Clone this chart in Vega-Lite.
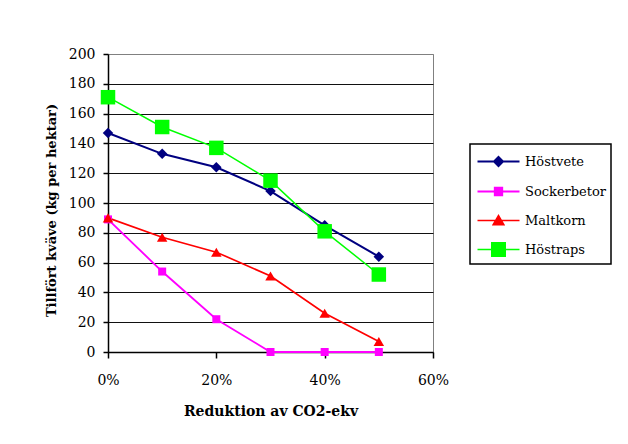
{
  "$schema": "https://vega.github.io/schema/vega-lite/v6.json",
  "width": 325,
  "height": 298,
  "autosize": {"type": "none"},
  "padding": {"left": 108, "top": 54, "right": 195, "bottom": 92},
  "background": "white",
  "config": {
    "view": {"stroke": "#808080", "strokeWidth": 1},
    "font": "DejaVu Serif",
    "legend": {"labelFont": "DejaVu Serif", "labelFontSize": 13, "labelColor": "black"}
  },
  "data": {"values": [
    {"crop": "Höstvete", "red": 0, "n": 147},
    {"crop": "Höstvete", "red": 0.1, "n": 133},
    {"crop": "Höstvete", "red": 0.2, "n": 124},
    {"crop": "Höstvete", "red": 0.3, "n": 108},
    {"crop": "Höstvete", "red": 0.4, "n": 85},
    {"crop": "Höstvete", "red": 0.5, "n": 64},
    {"crop": "Sockerbetor", "red": 0, "n": 89},
    {"crop": "Sockerbetor", "red": 0.1, "n": 54},
    {"crop": "Sockerbetor", "red": 0.2, "n": 22},
    {"crop": "Sockerbetor", "red": 0.3, "n": 0},
    {"crop": "Sockerbetor", "red": 0.4, "n": 0},
    {"crop": "Sockerbetor", "red": 0.5, "n": 0},
    {"crop": "Maltkorn", "red": 0, "n": 90},
    {"crop": "Maltkorn", "red": 0.1, "n": 77},
    {"crop": "Maltkorn", "red": 0.2, "n": 67},
    {"crop": "Maltkorn", "red": 0.3, "n": 51},
    {"crop": "Maltkorn", "red": 0.4, "n": 26},
    {"crop": "Maltkorn", "red": 0.5, "n": 7},
    {"crop": "Höstraps", "red": 0, "n": 171},
    {"crop": "Höstraps", "red": 0.1, "n": 151},
    {"crop": "Höstraps", "red": 0.2, "n": 137},
    {"crop": "Höstraps", "red": 0.3, "n": 115},
    {"crop": "Höstraps", "red": 0.4, "n": 81},
    {"crop": "Höstraps", "red": 0.5, "n": 52}
  ]},
  "encoding": {
    "x": {
      "field": "red", "type": "quantitative",
      "scale": {"domain": [0, 0.6], "nice": false, "zero": false},
      "axis": {
        "values": [0, 0.2, 0.4, 0.6], "format": ".0%", "grid": false, "labelFlush": false,
        "domainColor": "black", "domainWidth": 1.5, "tickColor": "black", "tickWidth": 1.5, "tickSize": 6,
        "labelFont": "DejaVu Serif", "labelFontSize": 14, "labelColor": "black", "labelPadding": 15,
        "title": "Reduktion av CO2-ekv", "titleFont": "DejaVu Serif", "titleFontSize": 14,
        "titleFontWeight": "bold", "titleColor": "black", "titleY": 63, "titleBaseline": "alphabetic"
      }
    },
    "y": {
      "field": "n", "type": "quantitative",
      "scale": {"domain": [0, 200], "nice": false},
      "axis": {
        "values": [0, 20, 40, 60, 80, 100, 120, 140, 160, 180, 200],
        "grid": true,
        "gridColor": {"condition": {"test": "datum.value == 200", "value": "#808080"}, "value": "#111111"},
        "gridWidth": 1.2,
        "domainColor": "black", "domainWidth": 1.5, "tickColor": "black", "tickWidth": 1.5, "tickSize": 5,
        "labelFont": "DejaVu Serif", "labelFontSize": 14, "labelColor": "black", "labelPadding": 8,
        "title": "Tillfört kväve (kg per hektar)", "titleFont": "DejaVu Serif", "titleFontSize": 13,
        "titleFontWeight": "bold", "titleColor": "black", "titleX": -53, "titleY": 156,
        "titleBaseline": "alphabetic", "titleAlign": "center", "titleAngle": -90
      }
    },
    "color": {
      "field": "crop", "type": "nominal",
      "scale": {"domain": ["Höstvete", "Sockerbetor", "Maltkorn", "Höstraps"], "range": ["#000080", "#FF00FF", "#FF0000", "#00FF00"]},
      "legend": {
        "title": null, "orient": "none", "legendX": 362, "legendY": 90,
        "strokeColor": "black", "padding": 4, "symbolSize": 625, "rowPadding": 8,
        "labelFont": "DejaVu Serif", "labelFontSize": 13, "labelColor": "black", "labelOffset": 24,
        "encode": {
          "legend": {"update": {"strokeWidth": {"value": 1.5}}},
          "labels": {"update": {
            "font": {"value": "DejaVu Serif"},
            "fontSize": {"value": 13},
            "fill": {"value": "black"}
          }},
          "symbols": {"update": {
            "shape": {"signal": "datum.value === 'Höstvete' ? 'M-0.8,0L2.56,0M0.88,-0.36L1.24,0L0.88,0.36L0.52,0Z' : datum.value === 'Sockerbetor' ? 'M-0.8,0L2.56,0M0.58,-0.3L1.18,-0.3L1.18,0.3L0.58,0.3Z' : datum.value === 'Maltkorn' ? 'M-0.8,0L2.56,0M0.88,-0.38L1.3,0.33L0.46,0.33Z' : 'M-0.8,0L2.56,0M0.34,-0.54L1.42,-0.54L1.42,0.54L0.34,0.54Z'"},
            "size": {"value": 625},
            "fill": {"signal": "scale('color', datum.value)"},
            "stroke": {"signal": "scale('color', datum.value)"},
            "strokeWidth": {"value": 1.5},
            "opacity": {"value": 1},
            "fillOpacity": {"value": 1},
            "strokeOpacity": {"value": 1}
          }}
        }
      }
    }
  },
  "layer": [
    {
      "mark": {"type": "line"},
      "encoding": {
        "strokeWidth": {"field": "crop", "type": "ordinal", "scale": {"domain": ["Höstvete", "Sockerbetor", "Maltkorn", "Höstraps"], "range": [2, 1.5, 1.5, 1.5]}, "legend": null}
      }
    },
    {
      "transform": [{"filter": "datum.crop === 'Höstvete'"}],
      "mark": {"type": "point", "filled": true, "opacity": 1, "shape": "diamond", "size": 110}
    },
    {
      "transform": [{"filter": "datum.crop === 'Sockerbetor'"}],
      "mark": {"type": "point", "filled": true, "opacity": 1, "shape": "square", "size": 64}
    },
    {
      "transform": [{"filter": "datum.crop === 'Maltkorn'"}],
      "mark": {"type": "point", "filled": true, "opacity": 1, "shape": "triangle-up", "size": 110}
    },
    {
      "transform": [{"filter": "datum.crop === 'Höstraps'"}],
      "mark": {"type": "point", "filled": true, "opacity": 1, "shape": "square", "size": 210}
    }
  ]
}
